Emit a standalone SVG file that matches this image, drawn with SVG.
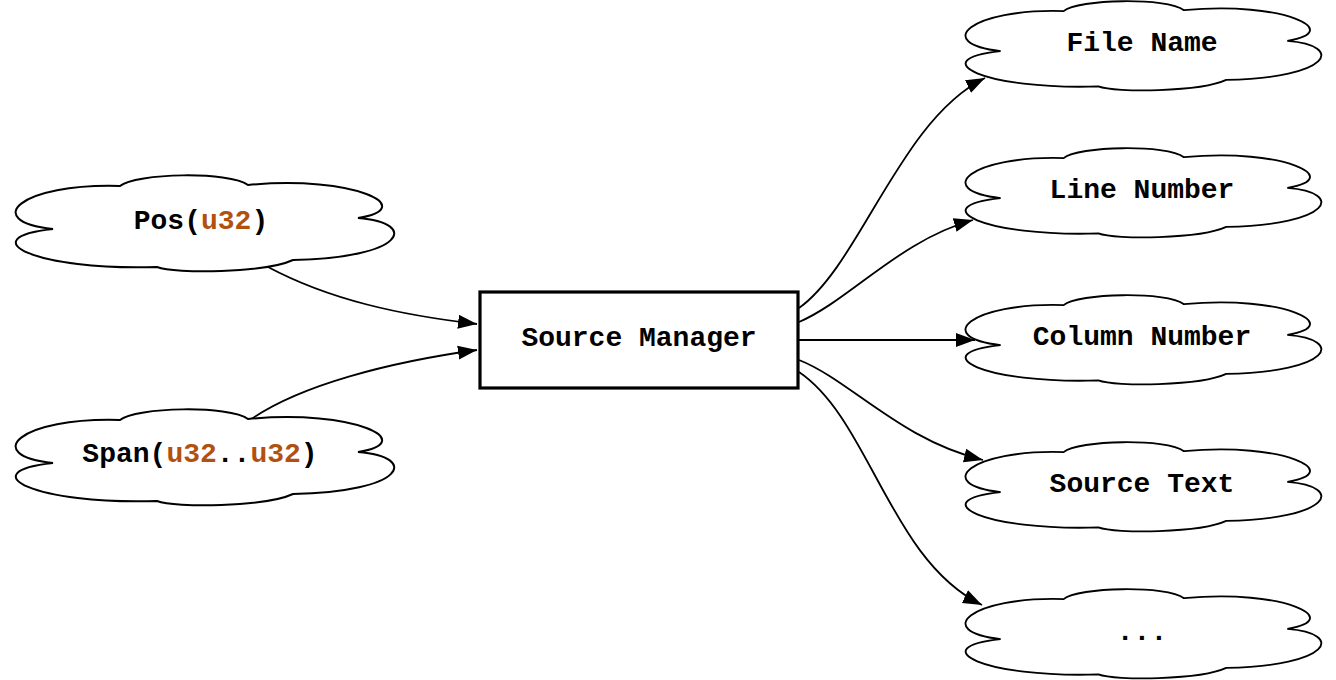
<svg xmlns="http://www.w3.org/2000/svg" xmlns:xlink="http://www.w3.org/1999/xlink" width="1336" height="680" viewBox="0 0 1336 680">
<style>
.cloud{fill:#fff;stroke:#000;stroke-width:2;vector-effect:non-scaling-stroke;stroke-linejoin:miter}
.lbl{font-family:"Liberation Mono","DejaVu Sans Mono",monospace;font-weight:bold;font-size:28px;fill:#000;text-anchor:middle}
.num{fill:#b2500f}
.edge{fill:none;stroke:#000;stroke-width:1.8;marker-end:url(#arr)}
.box{fill:#fff;stroke:#000;stroke-width:3.2}
</style>
<defs>
<marker id="arr" markerUnits="userSpaceOnUse" markerWidth="22" markerHeight="16" refX="19" refY="7" orient="auto" viewBox="0 0 22 14">
<path d="M0,0 L19,7 L0,14 Z" fill="#000"/>
</marker>
<path id="cl" d="M-152,6 C-225,-2 -185,-40 -85,-37 C-70,-50 25,-52 43,-38 C150,-48 215,-15 153,-5 C215,0 200,35 88,37 C60,50 -30,51 -48,44 C-170,48 -235,15 -152,6 Z"/>
</defs>
<rect width="1336" height="680" fill="#fff"/>
<g id="connectors">
<path class="edge" d="M268,267 C330,300 400,315 477,324"/>
<path class="edge" d="M250,420 C300,385 390,362 477,350"/>
<path class="edge" d="M799,308 C860,265 900,120 985,78"/>
<path class="edge" d="M799,322 C850,300 900,240 973,220"/>
<path class="edge" d="M799,340 L975,340"/>
<path class="edge" d="M799,360 C850,380 900,440 983,460"/>
<path class="edge" d="M799,372 C870,420 890,560 982,605"/>
</g>
<g id="pos">
<use xlink:href="#cl" class="cloud" transform="translate(205,223)"/>
<text class="lbl" x="201" y="229">Pos(<tspan class="num">u32</tspan>)</text>
</g>
<g id="span">
<use xlink:href="#cl" class="cloud" transform="translate(205,457)"/>
<text class="lbl" x="200" y="462">Span(<tspan class="num">u32</tspan>..<tspan class="num">u32</tspan>)</text>
</g>
<g id="source-manager">
<rect class="box" x="480" y="292" width="318" height="96"/>
<text class="lbl" x="639" y="346">Source Manager</text>
</g>
<g id="file-name">
<use xlink:href="#cl" class="cloud" transform="translate(1143.5,45.5) scale(0.94,0.93)"/>
<text class="lbl" x="1142" y="51">File Name</text>
</g>
<g id="line-number">
<use xlink:href="#cl" class="cloud" transform="translate(1143.5,192.5) scale(0.94,0.93)"/>
<text class="lbl" x="1142" y="198">Line Number</text>
</g>
<g id="column-number">
<use xlink:href="#cl" class="cloud" transform="translate(1143.5,339.5) scale(0.94,0.93)"/>
<text class="lbl" x="1142" y="345">Column Number</text>
</g>
<g id="source-text">
<use xlink:href="#cl" class="cloud" transform="translate(1143.5,486.5) scale(0.94,0.93)"/>
<text class="lbl" x="1142" y="492">Source Text</text>
</g>
<g id="more">
<use xlink:href="#cl" class="cloud" transform="translate(1143.5,633.5) scale(0.94,0.93)"/>
<text class="lbl" x="1142" y="640">...</text>
</g>
</svg>
